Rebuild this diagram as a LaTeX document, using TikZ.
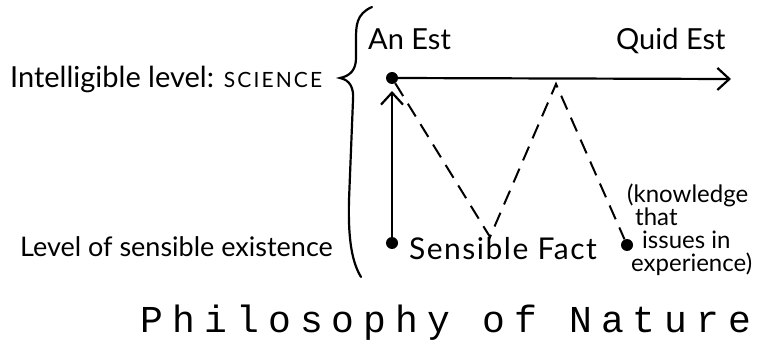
\documentclass[tikz,border=0pt]{standalone}
\usepackage{fontspec}
\setmainfont{Lato}
\newfontfamily\titlefont[LetterSpace=24]{Liberation Mono}
\usetikzlibrary{arrows.meta}
\begin{document}
\begin{tikzpicture}[x=1pt,y=-1pt,
  lbl/.style={inner sep=0pt,anchor=base west,font=\fontsize{29}{24}\selectfont},
  dotnode/.style={circle,fill=black,inner sep=0pt,minimum size=12pt},
  solidarrow/.style={line width=2.2pt,-{Straight Barb[length=12pt,width=22pt,line width=2.2pt]}},
  dashline/.style={line width=2pt,dash pattern=on 15pt off 9pt}]
\useasboundingbox (0,0) rectangle (773,347);
% dots
\node[dotnode] (a) at (392,78) {};
\node[dotnode] (b) at (392,243) {};
\node[dotnode] (c) at (627,245) {};
\coordinate (qend) at (731,79);
\coordinate (upend) at (392,91);
\coordinate (v) at (490,237);
\coordinate (p) at (556,84);
% arrows
\draw[solidarrow] (a.center) -- (qend);
\draw[solidarrow] (b.center) -- (upend);
\draw[dashline] (a) -- (v) -- (p) -- (c);
% brace
\draw[line width=2.2pt,line cap=round] (372,7) .. controls (356,14) and (356,26) .. (356,40)
  -- (356,58) .. controls (356,70) and (350,76) .. (340,78)
  .. controls (350,80) and (354,88) .. (353,100)
  -- (349,200) .. controls (348,240) and (352,262) .. (361,277);
% labels
\node[lbl] (intel) at (10,88) {Intelligible level: {\fontsize{21}{18}\selectfont\addfontfeatures{LetterSpace=10}SCIENCE}};
\node[lbl,font=\fontsize{27}{24}\selectfont] (sens) at (20,257) {Level of sensible existence};
\node[lbl] (anest) at (368,50) {An Est};
\node[lbl] (quid) at (616,50) {Quid Est};
\node[lbl,font=\fontsize{30}{24}\selectfont\addfontfeatures{LetterSpace=5}] (fact) at (409,259) {Sensible Fact};
\node[inner sep=0pt,anchor=north west,align=left,font=\fontsize{24}{23}\selectfont] (know) at (627,184)
  {(knowledge\\\hspace*{8pt}that\\\hspace*{15pt}issues in\\\hspace*{4pt}experience)};
\node[inner sep=0pt,anchor=base,font=\titlefont\fontsize{38}{40}\selectfont] (title) at (446,332) {Philosophy of Nature};
\end{tikzpicture}
\end{document}
